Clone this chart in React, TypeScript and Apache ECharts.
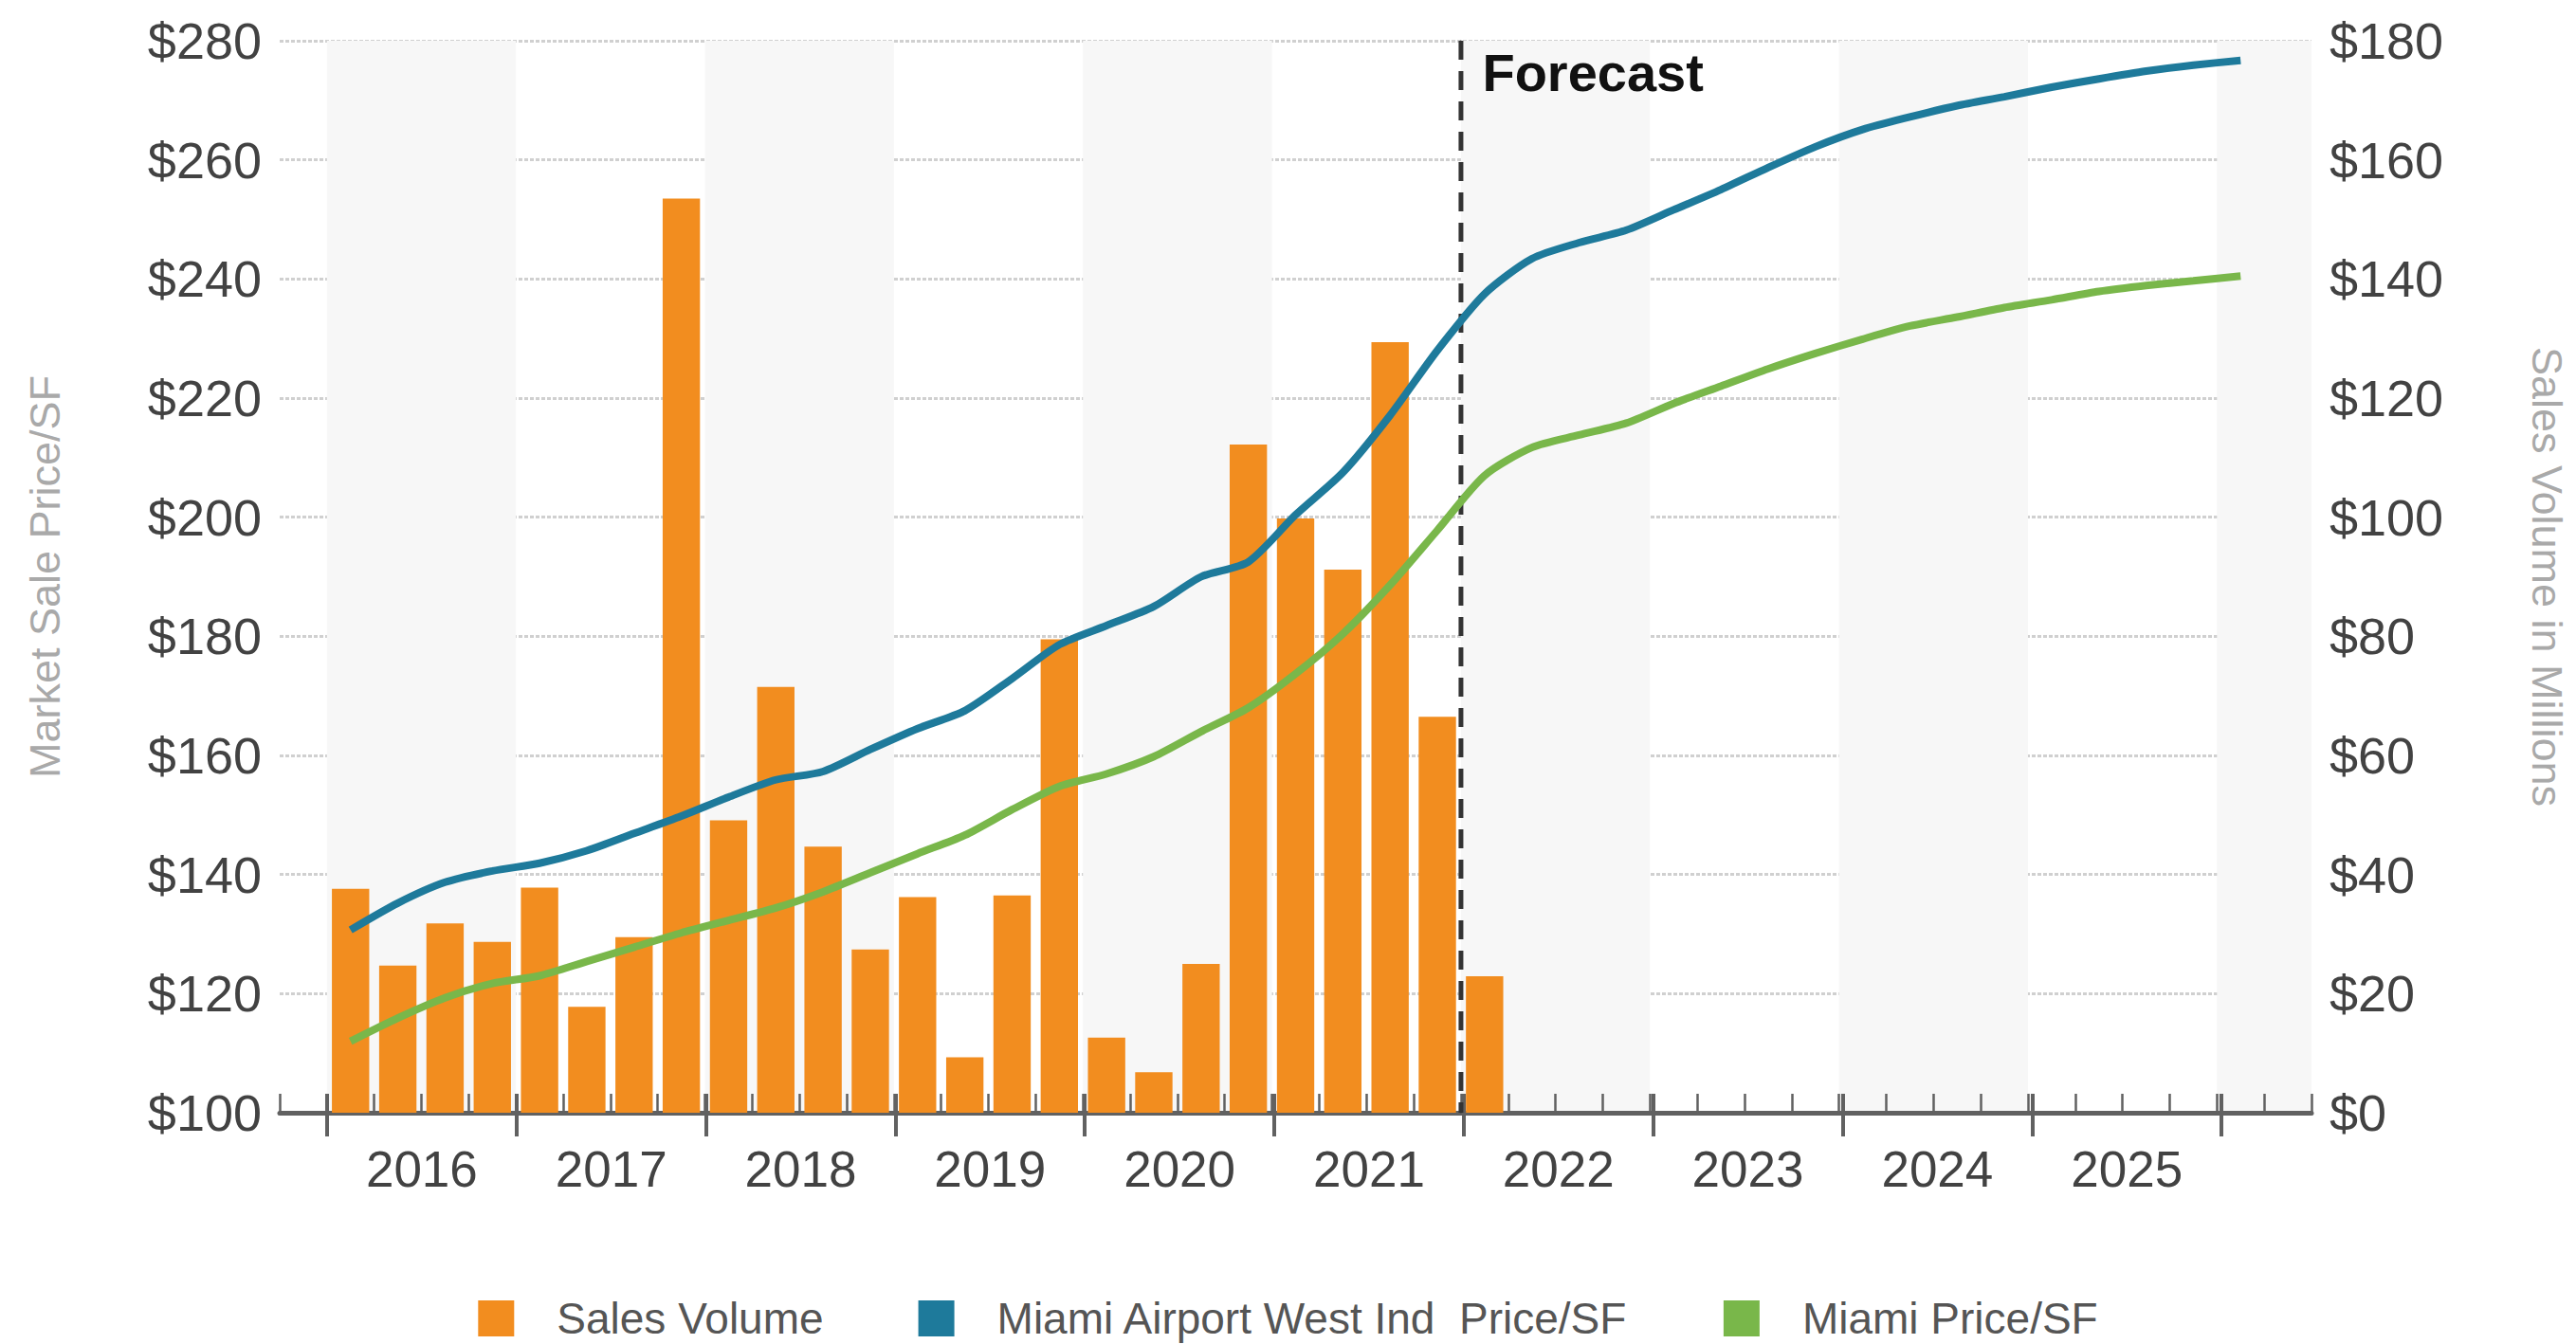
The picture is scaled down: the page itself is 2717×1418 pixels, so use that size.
import React, { useEffect, useRef } from "react";
import * as echarts from "echarts";

// ---------- data ----------
const YEARS = ["2016", "2017", "2018", "2019", "2020", "2021", "2022", "2023", "2024", "2025"];
const QUARTERS = [
  "2015 Q4",
  ...YEARS.flatMap((y) => [`${y} Q1`, `${y} Q2`, `${y} Q3`, `${y} Q4`]),
  "2026 Q1",
  "2026 Q2",
];
const FIRST_QUARTER = "2016 Q1";
const FORECAST_START = "2022 Q1";

const PRICE_TICKS = [100, 120, 140, 160, 180, 200, 220, 240, 260, 280];
const VOLUME_TICKS = [0, 20, 40, 60, 80, 100, 120, 140, 160, 180];

// Sales volume ($ millions), 2016 Q1 - 2022 Q1
const SALES_VOLUME = [
  37.6, 24.7, 31.8, 28.7,
  37.8, 17.8, 29.5, 153.5,
  49.1, 71.5, 44.7, 27.4,
  36.2, 9.3, 36.5, 79.5,
  12.6, 6.8, 25.0, 112.2,
  99.8, 91.2, 129.4, 66.5,
  22.9,
];

// Miami Airport West Ind Price/SF, 2016 Q1 - 2026 Q1
const AIRPORT_WEST_PRICE = [
  130.7, 135.2, 138.7, 140.6,
  141.9, 144.0, 146.9, 149.8,
  153.0, 155.9, 157.3, 161.0,
  164.5, 167.5, 172.9, 178.6,
  181.8, 185.0, 190.0, 192.5,
  200.4, 207.5, 217.1, 228.0,
  237.5, 243.4, 246.1, 248.2,
  251.6, 255.0, 258.7, 262.2,
  265.1, 267.2, 269.1, 270.6,
  272.2, 273.6, 274.9, 275.9,
  276.7,
];

// Miami Price/SF, 2016 Q1 - 2026 Q1
const MIAMI_PRICE = [
  112.0, 115.9, 119.3, 121.7,
  123.0, 125.4, 127.8, 130.2,
  132.3, 134.4, 137.1, 140.3,
  143.5, 146.6, 150.9, 154.8,
  156.9, 159.8, 164.0, 168.0,
  173.7, 180.4, 188.6, 197.8,
  207.0, 211.7, 213.8, 215.8,
  219.1, 222.0, 224.9, 227.5,
  229.9, 232.1, 233.6, 235.2,
  236.5, 237.9, 238.9, 239.7,
  240.5,
];

const NAMES = ["Sales Volume", "Miami Airport West Ind  Price/SF", "Miami Price/SF"];

// ---------- styles / layout ----------
const W = 2717;
const H = 1418;
const GRID_LEFT = 295;
const GRID_RIGHT = 274;
const GRID_TOP = 43;
const GRID_BOTTOM = 244;
const FONT = "'Liberation Sans', Arial, Helvetica, sans-serif";
const ORANGE = "#f28d1f";
const BLUE = "#1e7a9b";
const GREEN = "#79b74a";
const AXIS_GRAY = "#616161";
const LABEL_COLOR = "#424242";
const NAME_COLOR = "#a9a9a9";

const firstIdx = QUARTERS.indexOf(FIRST_QUARTER);
const lastIdx = firstIdx + YEARS.length * 4 - 1;
const forecastIdx = QUARTERS.indexOf(FORECAST_START);
const slot = (W - GRID_LEFT - GRID_RIGHT) / QUARTERS.length;

const align = (arr: number[]) => QUARTERS.map((_, i) => {
  const v = arr[i - firstIdx];
  return v === undefined ? null : v;
});

function buildOption(): echarts.EChartsOption {
  return {
    animation: false,
    backgroundColor: "#ffffff",
    textStyle: { fontFamily: FONT },
    grid: [
      { left: GRID_LEFT, right: GRID_RIGHT, top: GRID_TOP, bottom: GRID_BOTTOM },
      {
        left: GRID_LEFT + slot * firstIdx,
        right: GRID_RIGHT + slot * (QUARTERS.length - 1 - lastIdx),
        top: GRID_TOP,
        bottom: GRID_BOTTOM,
      },
    ],
    legend: {
      data: NAMES,
      top: 1363,
      left: "center",
      icon: "rect",
      itemWidth: 38,
      itemHeight: 38,
      itemGap: 100,
      itemStyle: { borderWidth: 0 },
      textStyle: { fontSize: 46, color: "#555555", fontFamily: FONT, padding: [0, 0, 0, 40] },
      selectedMode: false,
    },
    xAxis: [
      {
        type: "category",
        gridIndex: 0,
        data: QUARTERS,
        position: "bottom",
        axisLine: { show: true, onZero: false, lineStyle: { color: AXIS_GRAY, width: 5 } },
        axisTick: { show: true, inside: true, length: 20, interval: 0, lineStyle: { color: AXIS_GRAY, width: 2.5 } },
        axisLabel: { show: false },
        splitLine: { show: false },
        splitArea: {
          show: true,
          interval: (i: number) => i >= firstIdx && (i - firstIdx) % 4 === 0,
          areaStyle: { color: ["rgba(255,255,255,0)", "#f7f7f7"] },
        },
      },
      {
        type: "category",
        gridIndex: 1,
        data: YEARS,
        position: "bottom",
        axisLine: { show: false, onZero: false },
        axisTick: { show: true, inside: false, length: 25, interval: 0, lineStyle: { color: AXIS_GRAY, width: 4 } },
        axisLabel: { show: true, interval: 0, fontSize: 53, color: LABEL_COLOR, margin: 33, fontFamily: FONT },
        splitLine: { show: false },
      },
      {
        type: "value",
        gridIndex: 0,
        min: 0,
        max: QUARTERS.length,
        show: false,
      },
      {
        type: "category",
        gridIndex: 1,
        data: YEARS,
        position: "bottom",
        axisLine: { show: false, onZero: false },
        axisTick: { show: true, inside: true, length: 20, interval: 0, lineStyle: { color: AXIS_GRAY, width: 4 } },
        axisLabel: { show: false },
        splitLine: { show: false },
      },
    ],
    yAxis: [
      {
        type: "value",
        gridIndex: 0,
        position: "left",
        min: PRICE_TICKS[0],
        max: PRICE_TICKS[PRICE_TICKS.length - 1],
        interval: PRICE_TICKS[1] - PRICE_TICKS[0],
        name: "Market Sale Price/SF",
        nameLocation: "middle",
        nameGap: 225,
        nameTextStyle: { fontSize: 45, color: NAME_COLOR, fontFamily: FONT },
        axisLine: { show: false },
        axisTick: { show: false },
        axisLabel: { fontSize: 54, color: LABEL_COLOR, margin: 19, formatter: (v: number) => "$" + v, fontFamily: FONT },
        splitLine: { show: true, lineStyle: { color: "#d0d0d0", width: 3, type: [4, 2] } },
      },
      {
        type: "value",
        gridIndex: 0,
        position: "right",
        min: VOLUME_TICKS[0],
        max: VOLUME_TICKS[VOLUME_TICKS.length - 1],
        interval: VOLUME_TICKS[1] - VOLUME_TICKS[0],
        name: "Sales Volume in Millions",
        nameLocation: "middle",
        nameRotate: -90,
        nameGap: 226,
        nameTextStyle: { fontSize: 45, color: NAME_COLOR, fontFamily: FONT },
        axisLine: { show: false },
        axisTick: { show: false },
        axisLabel: { fontSize: 54, color: LABEL_COLOR, margin: 19, formatter: (v: number) => "$" + v, fontFamily: FONT },
        splitLine: { show: false },
      },
      {
        type: "value",
        gridIndex: 1,
        show: false,
        axisLine: { onZero: false },
      },
    ],
    series: [
      {
        name: NAMES[0],
        type: "bar",
        xAxisIndex: 0,
        yAxisIndex: 1,
        data: align(SALES_VOLUME),
        barCategoryGap: "21%",
        itemStyle: { color: ORANGE },
        z: 2,
      },
      {
        name: "Forecast",
        type: "line",
        xAxisIndex: 2,
        yAxisIndex: 0,
        symbol: "circle",
        symbolSize: 1,
        showSymbol: true,
        silent: true,
        lineStyle: { color: "#333333", width: 5, type: [20, 12] },
        itemStyle: { color: "#333333" },
        data: [
          {
            value: [forecastIdx, PRICE_TICKS[PRICE_TICKS.length - 1]],
            label: {
              show: true,
              formatter: "Forecast",
              position: "right",
              distance: 22,
              offset: [0, 33],
              fontSize: 56,
              fontWeight: "bold",
              color: "#111111",
              fontFamily: FONT,
            },
          },
          [forecastIdx, PRICE_TICKS[0]],
        ],
        z: 3,
      },
      {
        name: NAMES[1],
        type: "line",
        xAxisIndex: 0,
        yAxisIndex: 0,
        data: align(AIRPORT_WEST_PRICE),
        smooth: 0.25,
        symbol: "none",
        lineStyle: { color: BLUE, width: 8 },
        itemStyle: { color: BLUE },
        z: 4,
      },
      {
        name: NAMES[2],
        type: "line",
        xAxisIndex: 0,
        yAxisIndex: 0,
        data: align(MIAMI_PRICE),
        smooth: 0.25,
        symbol: "none",
        lineStyle: { color: GREEN, width: 8 },
        itemStyle: { color: GREEN },
        z: 4,
      },
    ],
  };
}

export default function App() {
  const ref = useRef<HTMLDivElement>(null);
  useEffect(() => {
    document.body.style.margin = "0";
    document.body.style.overflow = "hidden";
    document.documentElement.style.overflow = "hidden";
    if (!ref.current) return;
    const chart = echarts.init(ref.current, null, { renderer: "svg" });
    chart.setOption(buildOption());
    return () => chart.dispose();
  }, []);
  return <div ref={ref} style={{ width: W, height: H, background: "#ffffff", overflow: "hidden" }} />;
}
